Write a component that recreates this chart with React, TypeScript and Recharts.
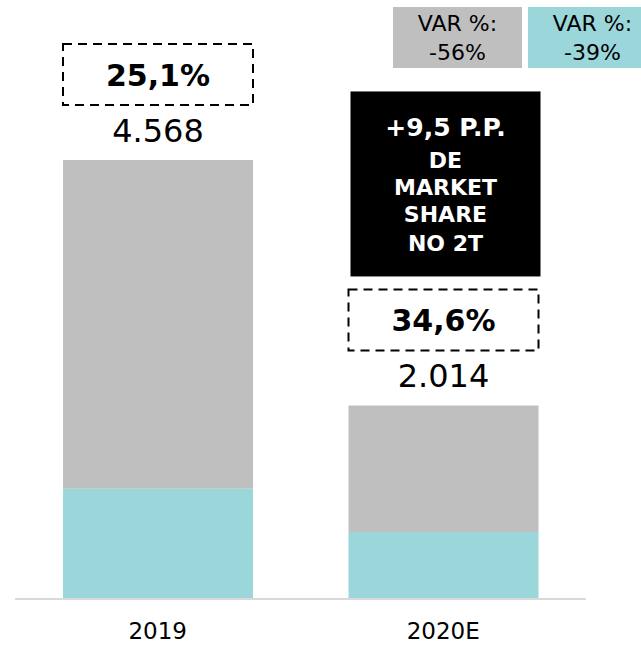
import React from 'react';
import { BarChart, Bar, XAxis, YAxis, LabelList } from 'recharts';

const categories = ['2019', '2020E'];
const totals = [4568, 2014];
const sharesPct = [25.1, 34.6];
const totalLabels = ['4.568', '2.014'];
const shareLabels = ['25,1%', '34,6%'];
const varTitles = ['VAR %:', 'VAR %:'];
const varValues = ['-56%', '-39%'];
const highlightLines = ['+9,5 P.P.', 'DE', 'MARKET', 'SHARE', 'NO 2T'];

const GRAY = '#bfbfbf';
const TEAL = '#9bd7da';
const FONT = '"DejaVu Sans", sans-serif';

const data = categories.map((c, i) => {
  const share = (totals[i] * sharesPct[i]) / 100;
  return { name: c, share, rest: totals[i] - share };
});

const lineOffsets = [36.5, 69, 96, 123.5, 152];

const TopLabel = (props: any) => {
  const { x, y, width, index } = props;
  const cx = x + width / 2;
  return (
    <g>
      <rect x={x} y={y - 116} width={width} height={61} fill="none" stroke="#000" strokeWidth={2} strokeDasharray="9 6" />
      <text x={cx} y={y - 85} textAnchor="middle" dominantBaseline="central" fontFamily={FONT} fontWeight={700} fontSize={30} fill="#000">
        {shareLabels[index]}
      </text>
      <text x={cx} y={y - 29} textAnchor="middle" dominantBaseline="central" fontFamily={FONT} fontSize={32} fill="#000">
        {totalLabels[index]}
      </text>
      {index === 1 && (
        <g>
          <rect x={x + 2} y={y - 314} width={width} height={185} fill="#000" />
          {highlightLines.map((l, k) => (
            <text key={k} x={cx + 2} y={y - 314 + lineOffsets[k]} textAnchor="middle" dominantBaseline="central"
              fontFamily={FONT} fontWeight={700} fontSize={k === 0 ? 25 : 22} fill="#fff">
              {l}
            </text>
          ))}
        </g>
      )}
    </g>
  );
};

const Tick = (props: any) => {
  const { x, payload } = props;
  return (
    <text x={x} y={631} textAnchor="middle" dominantBaseline="central" fontFamily={FONT} fontSize={23} fill="#000">
      {payload.value}
    </text>
  );
};

const boxes = [
  { left: 393, fill: GRAY },
  { left: 528, fill: TEAL },
];

export default function App() {
  return (
    <div style={{ position: 'absolute', left: 0, top: 0, width: 641, height: 646, overflow: 'hidden', background: '#fff' }}>
      <BarChart width={641} height={646} data={data} margin={{ top: 118.5, right: 55, bottom: 0, left: 15 }} barCategoryGap={0}>
        <XAxis dataKey="name" axisLine={{ stroke: '#d9d9d9', strokeWidth: 2 }} tickLine={false} height={47} tick={<Tick />} interval={0} />
        <YAxis hide domain={[0, 5000]} />
        <Bar dataKey="share" stackId="a" fill={TEAL} barSize={190} isAnimationActive={false} />
        <Bar dataKey="rest" stackId="a" fill={GRAY} barSize={190} isAnimationActive={false}>
          <LabelList dataKey="rest" content={<TopLabel />} />
        </Bar>
      </BarChart>
      {boxes.map((b, i) => (
        <div key={i} style={{ position: 'absolute', left: b.left, top: 7, width: 129, height: 61, background: b.fill, fontFamily: FONT, fontSize: 22, color: '#000', textAlign: 'center', lineHeight: '29px', paddingTop: 2, boxSizing: 'border-box' }}>
          <div>{varTitles[i]}</div>
          <div>{varValues[i]}</div>
        </div>
      ))}
    </div>
  );
}
